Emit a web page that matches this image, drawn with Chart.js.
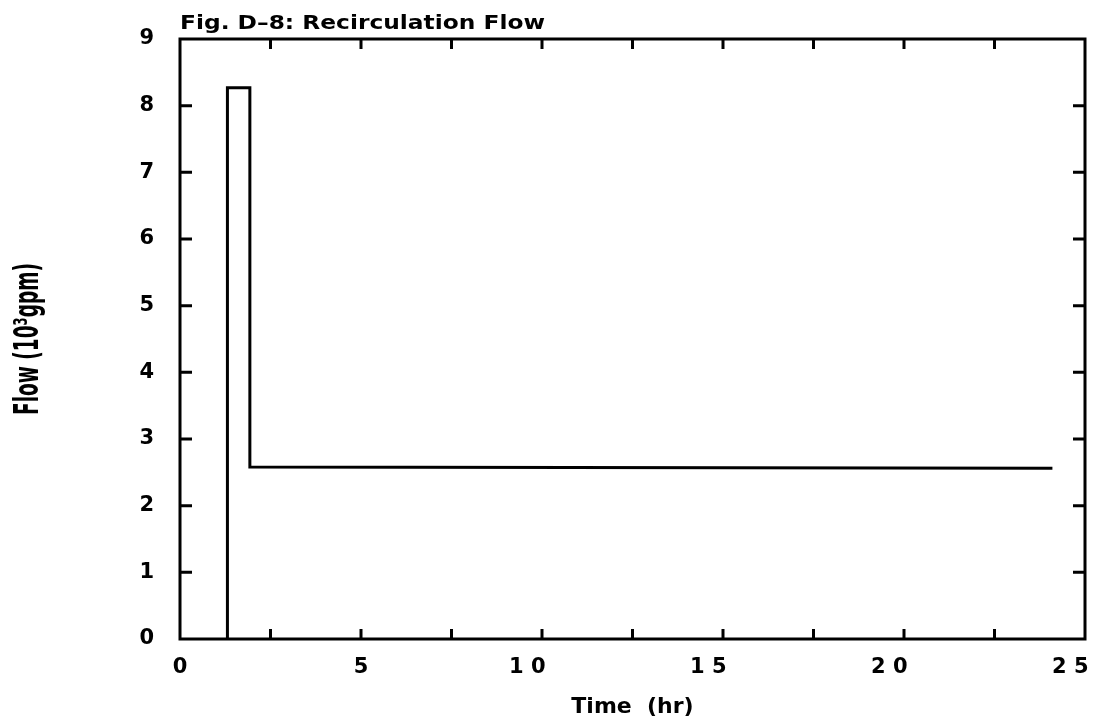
<!DOCTYPE html>
<html><head><meta charset="utf-8">
<script src="https://cdn.jsdelivr.net/npm/chart.js@4"></script>
<style>html,body{margin:0;padding:0;background:#fff}#wrap{width:1100px;height:728px}</style>
</head><body><div id="wrap"><canvas id="c" width="1100" height="728"></canvas></div>
<script>
const chartTitle = 'Fig. D–8: Recirculation Flow';
const xTitle = 'Time  (hr)';
const yTitle = 'Flow (10³gpm)';
const timeHr = [1.31, 1.31, 1.93, 1.93, 24.1];
const flow = [0, 8.27, 8.27, 2.58, 2.56];
const xTickLabels = ['0', '5', '1 0    ', '1 5    ', '2 0    ', '2 5    '];
const yTickLabels = ['0','1','2','3','4','5','6','7','8','9'];

const LBL = "'DejaVu Sans', sans-serif";

const deco = {
  id: 'deco',
  afterDraw(chart) {
    const ctx = chart.ctx, a = chart.chartArea;
    const xs = chart.scales.x, ys = chart.scales.y;
    ctx.save();
    ctx.strokeStyle = '#000';
    ctx.lineWidth = 3;
    ctx.strokeRect(a.left, a.top, a.right - a.left, a.bottom - a.top);
    ctx.beginPath();
    xs.ticks.forEach(t => {
      const px = xs.getPixelForValue(t.value);
      if (Math.abs(px - a.left) < 2 || Math.abs(px - a.right) < 2) return;
      ctx.moveTo(px, a.bottom); ctx.lineTo(px, a.bottom - 10);
      ctx.moveTo(px, a.top); ctx.lineTo(px, a.top + 10);
    });
    ys.ticks.forEach(t => {
      const py = ys.getPixelForValue(t.value);
      if (Math.abs(py - a.top) < 2 || Math.abs(py - a.bottom) < 2) return;
      ctx.moveTo(a.left, py); ctx.lineTo(a.left + 12, py);
      ctx.moveTo(a.right, py); ctx.lineTo(a.right - 12, py);
    });
    ctx.stroke();
    ctx.fillStyle = '#000';
    // chart title, left-aligned to plot area, stretched to the reference width
    ctx.save();
    ctx.font = "bold 20px " + LBL;
    ctx.textBaseline = 'alphabetic';
    ctx.textAlign = 'left';
    const tw = ctx.measureText(chartTitle).width;
    ctx.translate(a.left, 29);
    ctx.scale(365 / tw, 1);
    ctx.fillText(chartTitle, 0, 0);
    ctx.restore();
    // y-axis title, condensed, rotated
    ctx.font = "bold 34px 'Liberation Sans Narrow', 'DejaVu Sans Condensed', sans-serif";
    const w = ctx.measureText(yTitle).width;
    ctx.translate(29, 339);
    ctx.rotate(-Math.PI / 2);
    ctx.scale(152 / w, 1);
    ctx.textAlign = 'center';
    ctx.textBaseline = 'middle';
    ctx.fillText(yTitle, 0, 0);
    ctx.restore();
  }
};

new Chart(document.getElementById('c'), {
  type: 'scatter',
  data: {
    datasets: [{
      data: timeHr.map((t, i) => ({x: t, y: flow[i]})),
      showLine: true,
      borderColor: '#000',
      borderWidth: 3,
      pointRadius: 0,
      fill: false,
      tension: 0
    }]
  },
  options: {
    responsive: false,
    animation: false,
    devicePixelRatio: 1,
    layout: {padding: {left: 0, right: 15, top: 39, bottom: 0}},
    plugins: {legend: {display: false}, tooltip: {enabled: false}, title: {display: false}},
    scales: {
      x: {
        type: 'linear', min: 0, max: 25,
        ticks: {
          stepSize: 2.5, autoSkip: false, maxRotation: 0, padding: 16,
          color: '#000', font: {family: LBL, size: 21, weight: 'bold'},
          callback: (v) => (v % 5 === 0 ? xTickLabels[v / 5] : '')
        },
        grid: {display: false, drawTicks: false},
        border: {display: false},
        title: {display: true, text: xTitle, color: '#000', font: {family: LBL, size: 22, weight: 'bold'}, padding: {top: 8, bottom: 8}},
        afterFit: (s) => { s.height = 89; s.paddingLeft = 0; s.paddingRight = 0; }
      },
      y: {
        min: 0, max: 9,
        ticks: {
          stepSize: 1, padding: 26, color: '#000',
          font: {family: LBL, size: 21, weight: 'bold'},
          callback: (v) => yTickLabels[v]
        },
        grid: {display: false, drawTicks: false},
        border: {display: false},
        afterFit: (s) => { s.width = 180; s.paddingTop = 0; s.paddingBottom = 0; }
      }
    }
  },
  plugins: [deco]
});
</script>
</body></html>
